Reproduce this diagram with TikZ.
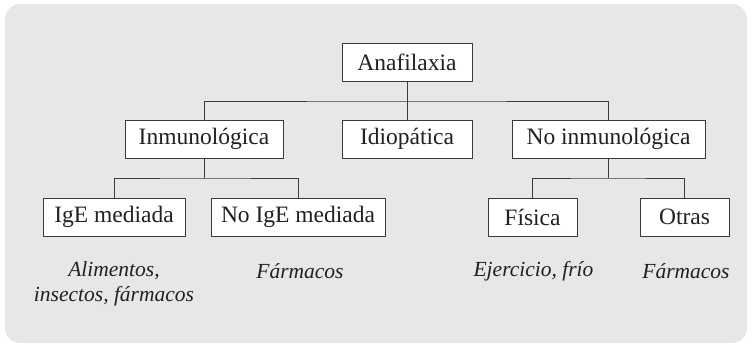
\documentclass[tikz,border=0pt]{standalone}
\usepackage{fontspec}
\setmainfont{Liberation Serif}
\definecolor{bgpanel}{HTML}{E6E7E9}
\definecolor{linegray}{HTML}{3A3A3A}
\definecolor{inktext}{HTML}{231F20}
\begin{document}
\begin{tikzpicture}[x=1pt,y=-1pt,
  box/.style={draw=linegray,line width=1pt,fill=white,inner sep=0pt,
    minimum height=38pt,font=\fontsize{23.5}{28}\selectfont,text=inktext},
  lab/.style={inner sep=0pt,align=center,font=\fontsize{21.5}{25}\selectfont\itshape,text=inktext},
  conn/.style={draw=linegray,line width=1pt}]
\useasboundingbox (0,0) rectangle (752,351);
\fill[bgpanel,rounded corners=15pt] (5,4) rectangle (747,343);
% level 0
\node[box,minimum width=130pt] (ana) at (407,62) {Anafilaxia};
% level 1
\node[box,minimum width=158pt] (inm) at (204,139) {Inmunológica};
\node[box,minimum width=130pt] (idi) at (407,139) {Idiopática};
\node[box,minimum width=193pt] (noi) at (608.5,139) {No inmunológica};
% level 2
\node[box,minimum width=142pt] (ige) at (114,217) {IgE mediada};
\node[box,minimum width=174pt] (nige) at (298,217) {No IgE mediada};
\node[box,minimum width=89pt] (fis) at (532.5,217) {Física};
\node[box,minimum width=89pt] (otr) at (684.5,217) {Otras};
% labels
\node[lab] (l1) at (114,284) {Alimentos,\\insectos, fármacos};
\node[lab] (l2) at (300,271) {Fármacos};
\node[lab] (l3) at (533.5,271) {Ejercicio, frío};
\node[lab] (l4) at (686,271) {Fármacos};
% junctions
\coordinate (j1) at (407,101);
\coordinate (j2) at (204,178);
\coordinate (j3) at (608.5,178);
% connectors
\draw[conn] (ana.south) -- (idi.north);
\draw[conn] (inm.north) |- (j1) -| (noi.north);
\draw[conn] (inm.south) -- (j2);
\draw[conn] (ige.north) |- (j2) -| (nige.north);
\draw[conn] (noi.south) -- (j3);
\draw[conn] (fis.north) |- (j3) -| (otr.north);
\end{tikzpicture}
\end{document}
